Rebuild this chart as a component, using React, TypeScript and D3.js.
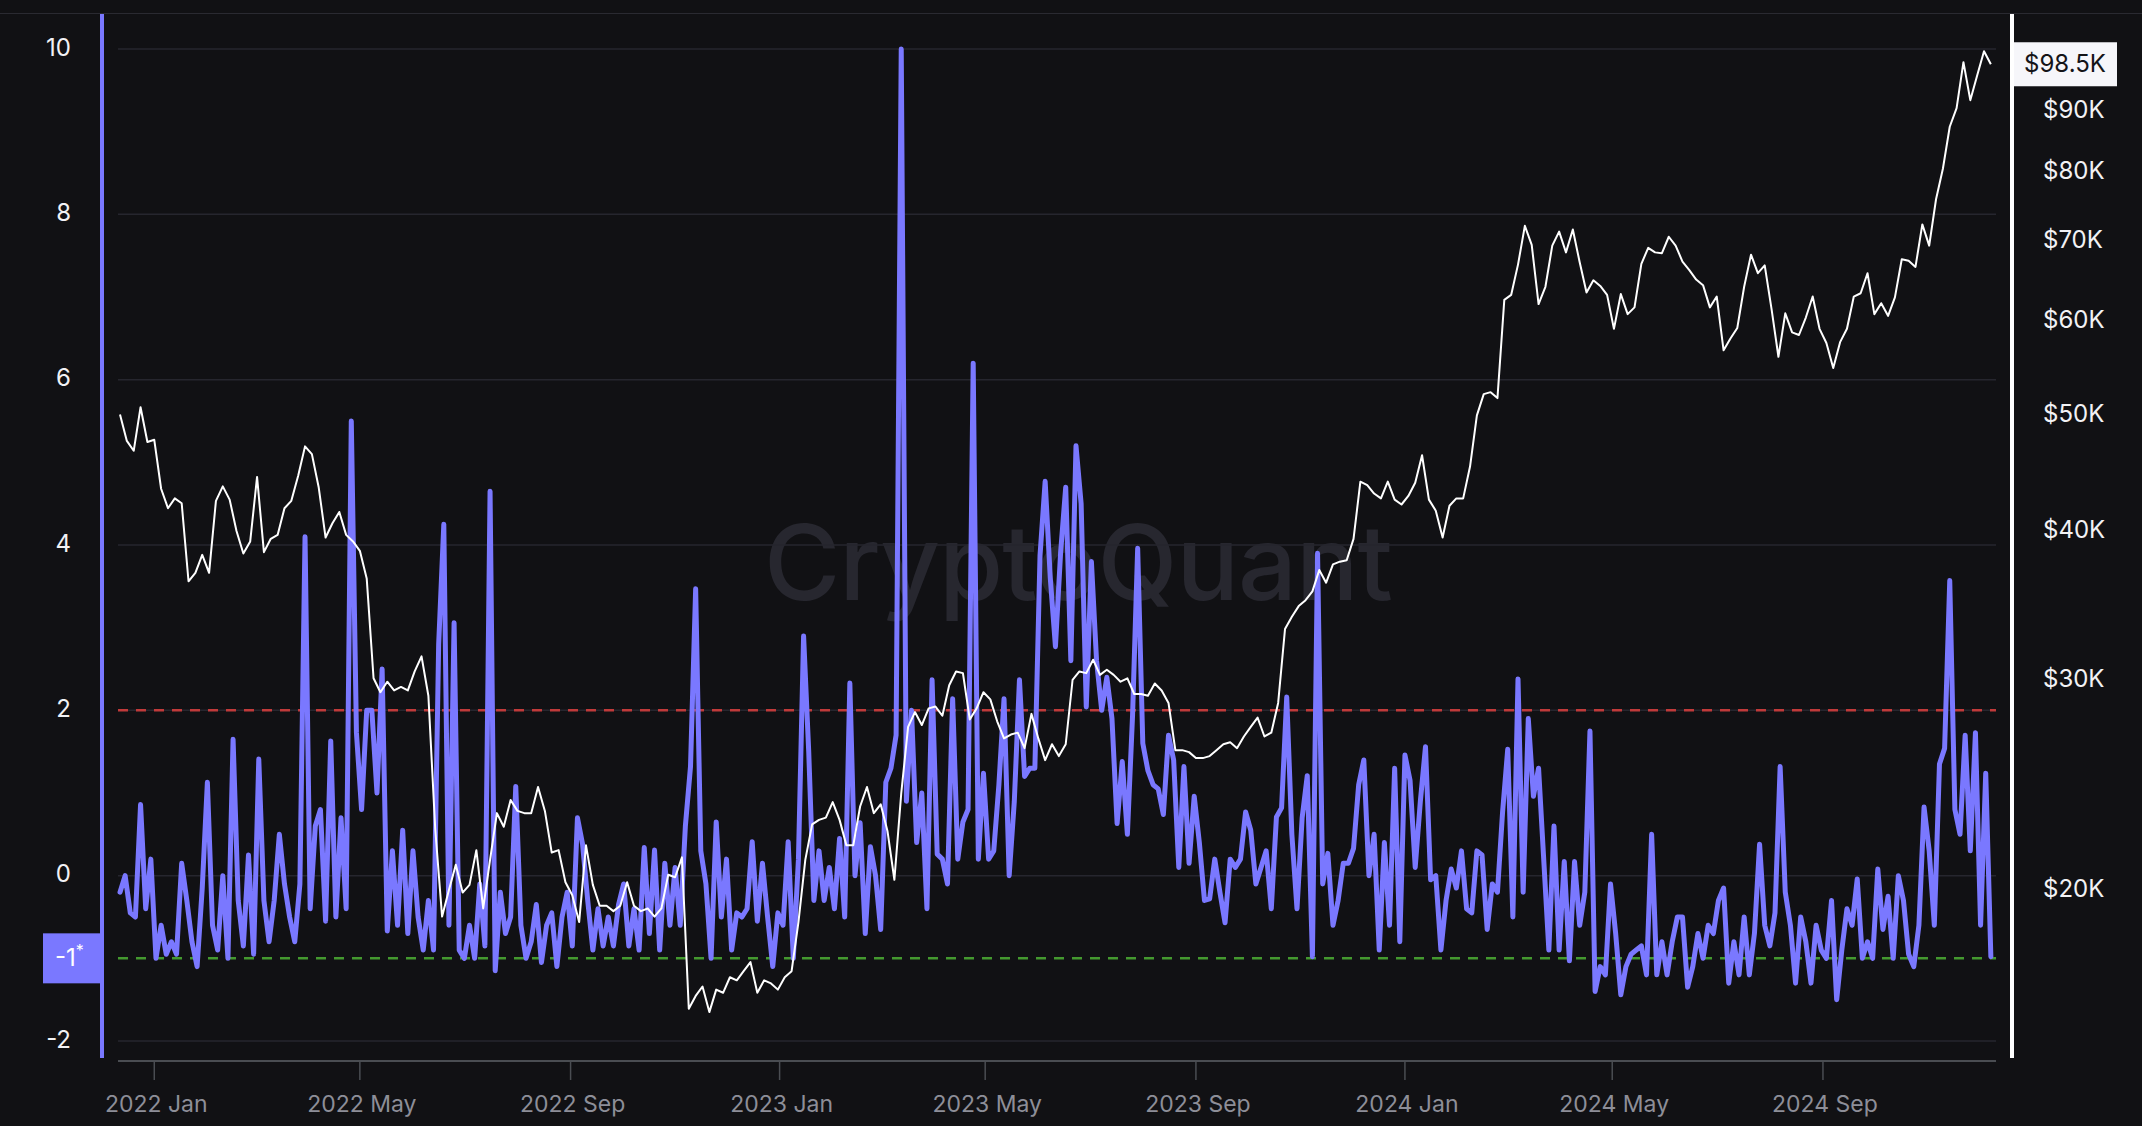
import React from 'react';
import * as d3 from 'd3';

// ---------- DATA ----------
const START_MS = Date.UTC(2021, 11, 12);
const END_MS = Date.UTC(2024, 11, 11);
const DAY_MS = 86400000;
const ratioStepDays = 3;
const priceStepDays = 4;

// Indicator (left axis), one value every 3 days from 2021-12-12
const ratioValues: number[] = [
  -0.2, 0.0, -0.45, -0.5, 0.86, -0.4, 0.2, -1.0, -0.6, -0.95,
  -0.8, -0.95, 0.15, -0.3, -0.8, -1.1, -0.15, 1.13, -0.6, -0.9,
  0.0, -1.0, 1.65, -0.3, -0.85, 0.25, -0.95, 1.41, -0.3, -0.8,
  -0.3, 0.5, -0.1, -0.5, -0.8, -0.1, 4.1, -0.4, 0.6, 0.8,
  -0.55, 1.63, -0.5, 0.7, -0.4, 5.5, 1.73, 0.8, 2.0, 2.0,
  1.0, 2.5, -0.67, 0.3, -0.6, 0.55, -0.7, 0.3, -0.5, -0.9,
  -0.3, -0.9, 2.8, 4.25, -0.6, 3.06, -0.9, -1.0, -0.6, -1.0,
  -0.1, -0.85, 4.65, -1.15, -0.2, -0.7, -0.5, 1.08, -0.6, -1.0,
  -0.8, -0.35, -1.05, -0.6, -0.45, -1.1, -0.5, -0.2, -0.85, 0.7,
  0.38, -0.3, -0.9, -0.4, -0.85, -0.5, -0.85, -0.35, -0.1, -0.85,
  -0.4, -0.9, 0.34, -0.7, 0.31, -0.9, 0.15, -0.6, 0.1, -0.6,
  0.6, 1.32, 3.47, 0.3, -0.1, -1.0, 0.65, -0.5, 0.2, -0.9,
  -0.45, -0.5, -0.4, 0.41, -0.55, 0.15, -0.5, -1.1, -0.45, -0.6,
  0.41, -1.0, 0.2, 2.9, 1.5, -0.3, 0.3, -0.3, 0.1, -0.4,
  0.45, -0.5, 2.33, 0.0, 0.64, -0.7, 0.35, 0.0, -0.65, 1.13,
  1.3, 1.7, 10.0, 0.9, 2.0, 0.4, 1.0, -0.4, 2.37, 0.26,
  0.2, -0.1, 2.14, 0.2, 0.65, 0.8, 6.2, 0.2, 1.24, 0.2,
  0.3, 1.1, 2.14, 0.0, 0.9, 2.37, 1.2, 1.3, 1.3, 3.87,
  4.77, 3.6, 2.77, 3.9, 4.7, 2.6, 5.2, 4.5, 2.04, 3.8,
  2.6, 2.0, 2.4, 1.9, 0.63, 1.38, 0.5, 1.93, 3.96, 1.6,
  1.27, 1.1, 1.05, 0.74, 1.7, 1.4, 0.1, 1.32, 0.15, 0.96,
  0.4, -0.3, -0.28, 0.2, -0.2, -0.57, 0.2, 0.1, 0.2, 0.77,
  0.55, -0.1, 0.1, 0.3, -0.4, 0.71, 0.82, 2.16, 0.5, -0.4,
  0.7, 1.21, -0.98, 3.9, -0.1, 0.27, -0.6, -0.3, 0.15, 0.15,
  0.33, 1.1, 1.4, 0.0, 0.5, -0.9, 0.4, -0.6, 1.3, -0.8,
  1.46, 1.15, 0.1, 0.9, 1.56, -0.05, 0.0, -0.9, -0.3, 0.08,
  -0.15, 0.3, -0.4, -0.45, 0.3, 0.25, -0.65, -0.1, -0.2, 0.77,
  1.53, -0.5, 2.38, -0.2, 1.9, 0.96, 1.3, 0.2, -0.9, 0.6,
  -0.9, 0.17, -1.03, 0.17, -0.6, -0.2, 1.75, -1.4, -1.1, -1.2,
  -0.1, -0.7, -1.44, -1.1, -0.95, -0.9, -0.85, -1.2, 0.5, -1.2,
  -0.8, -1.2, -0.8, -0.5, -0.5, -1.35, -1.1, -0.7, -1.0, -0.6,
  -0.7, -0.3, -0.15, -1.3, -0.8, -1.2, -0.5, -1.2, -0.7, 0.38,
  -0.6, -0.85, -0.45, 1.32, -0.2, -0.6, -1.3, -0.5, -0.8, -1.3,
  -0.6, -0.9, -1.0, -0.3, -1.5, -0.9, -0.4, -0.6, -0.04, -1.0,
  -0.8, -1.0, 0.08, -0.65, -0.25, -1.0, 0.0, -0.3, -0.95, -1.1,
  -0.6, 0.83, 0.3, -0.6, 1.35, 1.54, 3.57, 0.8, 0.5, 1.7,
  0.3, 1.73, -0.6, 1.24, -0.98,
];

// BTC price in $K (right log axis), one value every 4 days from 2021-12-12
const priceValuesK: number[] = [
  50.1, 47.6, 46.7, 50.8, 47.5, 47.7, 43.4, 41.8, 42.6, 42.2,
  36.3, 36.9, 38.2, 36.9, 42.4, 43.6, 42.5, 40.0, 38.3, 39.2,
  44.4, 38.4, 39.4, 39.7, 41.8, 42.4, 44.5, 47.1, 46.4, 43.5,
  39.5, 40.6, 41.5, 39.7, 39.2, 38.5, 36.5, 30.1, 29.3, 29.9,
  29.4, 29.6, 29.4, 30.5, 31.4, 29.1, 22.5, 19.0, 20.0, 21.0,
  19.9, 20.2, 21.6, 19.3, 21.2, 23.2, 22.6, 23.8, 23.3, 23.2,
  23.2, 24.4, 23.3, 21.5, 21.6, 20.3, 19.8, 18.8, 21.8, 20.2,
  19.4, 19.4, 19.2, 19.4, 20.3, 19.4, 19.2, 19.3, 19.0, 19.3,
  20.6, 20.5, 21.3, 15.9, 16.3, 16.6, 15.8, 16.5, 16.4, 16.9,
  16.8, 17.1, 17.4, 16.4, 16.8, 16.7, 16.5, 16.9, 17.1, 18.8,
  21.2, 22.7, 22.9, 23.0, 23.7, 22.9, 21.8, 21.8, 23.5, 24.4,
  23.2, 23.6, 22.4, 20.4, 24.1, 27.4, 28.2, 27.5, 28.4, 28.5,
  28.0, 29.7, 30.5, 30.4, 27.8, 28.4, 29.3, 28.9, 27.7, 26.8,
  27.0, 27.1, 26.3, 28.1, 26.8, 25.7, 26.5, 25.9, 26.5, 30.0,
  30.5, 30.4, 31.2, 30.3, 30.6, 30.3, 29.9, 30.1, 29.2, 29.2,
  29.1, 29.8, 29.4, 28.7, 26.2, 26.2, 26.1, 25.8, 25.8, 25.9,
  26.2, 26.5, 26.6, 26.3, 26.9, 27.4, 27.9, 26.9, 27.1, 28.7,
  33.1, 33.9, 34.6, 35.0, 35.6, 37.1, 36.2, 37.5, 37.7, 37.8,
  39.4, 44.0, 43.7, 43.0, 42.6, 44.0, 42.5, 42.1, 42.8, 43.9,
  46.3, 42.5, 41.6, 39.5, 42.0, 42.6, 42.6, 45.3, 50.0, 52.1,
  52.3, 51.7, 62.5, 63.1, 66.9, 72.1, 69.5, 62.0, 64.1, 69.4,
  71.3, 68.5, 71.6, 67.2, 63.4, 64.9, 64.2, 63.1, 59.1, 63.2,
  60.8, 61.6, 67.0, 69.1, 68.5, 68.4, 70.6, 69.4, 67.3, 66.2,
  65.0, 64.3, 61.6, 62.9, 56.7, 58.0, 59.2, 64.1, 68.2, 65.8,
  66.8, 61.4, 56.0, 60.9, 58.7, 58.4, 60.4, 62.9, 59.1, 57.5,
  54.8, 57.6, 59.1, 62.9, 63.3, 65.8, 60.8, 62.1, 60.6, 62.8,
  67.6, 67.4, 66.6, 72.3, 69.4, 75.9, 80.5, 87.3, 90.5, 98.9,
  91.9, 96.4, 101.0, 98.5,
];

const leftTicks = [-2, 0, 2, 4, 6, 8, 10];
const priceTicks = [20000, 30000, 40000, 50000, 60000, 70000, 80000, 90000];
const xTickDates = [
  [2022, 0], [2022, 4], [2022, 8],
  [2023, 0], [2023, 4], [2023, 8],
  [2024, 0], [2024, 4], [2024, 8],
];
const monthNames = ['Jan', 'Feb', 'Mar', 'Apr', 'May', 'Jun', 'Jul', 'Aug', 'Sep', 'Oct', 'Nov', 'Dec'];
const upperThreshold = 2;
const lowerThreshold = -1;
const lastPrice = 98500;
const lastPriceLabel = '$98.5K';

// ---------- COMPONENT ----------
export default function App() {
  const W = 2142;
  const H = 1126;
  const plotL = 118;
  const plotR = 1996;
  const axisY = 1061;
  const font = "Inter, 'Noto Sans', 'DejaVu Sans', sans-serif";

  const x = d3.scaleUtc().domain([new Date(START_MS), new Date(END_MS)]).range([120, 1996]);
  const yL = d3.scaleLinear().domain([-2, 10]).range([1041, 49]);
  const yR = d3.scaleLog().domain([20000, 90000]).range([890, 111]);

  const ratioPts = ratioValues.map((v, i) => ({ d: new Date(START_MS + i * ratioStepDays * DAY_MS), v }));
  const pricePts = priceValuesK.map((v, i) => ({ d: new Date(START_MS + i * priceStepDays * DAY_MS), v: v * 1000 }));

  const ratioLine = d3.line<{ d: Date; v: number }>().x(p => x(p.d)).y(p => yL(p.v));
  const priceLine = d3.line<{ d: Date; v: number }>().x(p => x(p.d)).y(p => yR(p.v));

  const bg = '#111114';
  const grid = '#26262e';
  const purple = '#7a78ff';

  return (
    <svg width={W} height={H} style={{ position: 'absolute', left: 0, top: 0, display: 'block' }}
      fontFamily={font}>
      <rect x={0} y={0} width={W} height={H} fill={bg} />
      <line x1={0} x2={W} y1={13.5} y2={13.5} stroke="#2a2a31" strokeWidth={1} />

      {/* watermark */}
      <text x={1078} y={600} textAnchor="middle" fontSize={104} fontWeight={500}
        fill="#27272f" letterSpacing={-1}>CryptoQuant</text>

      {/* gridlines */}
      {leftTicks.map(t => (
        <line key={'g' + t} x1={plotL} x2={plotR} y1={yL(t)} y2={yL(t)} stroke={grid} strokeWidth={1.5} />
      ))}

      {/* thresholds */}
      <line x1={plotL} x2={plotR} y1={yL(upperThreshold)} y2={yL(upperThreshold)}
        stroke="#c03a3a" strokeWidth={2.5} strokeDasharray="10 8" />
      <line x1={plotL} x2={plotR} y1={yL(lowerThreshold)} y2={yL(lowerThreshold)}
        stroke="#44992f" strokeWidth={2.5} strokeDasharray="10 8" />

      {/* series */}
      <path d={ratioLine(ratioPts) || ''} fill="none" stroke={purple} strokeWidth={5}
        strokeLinejoin="round" strokeLinecap="round" />
      <path d={priceLine(pricePts) || ''} fill="none" stroke="#ffffff" strokeWidth={2}
        strokeLinejoin="round" />

      {/* x axis */}
      <line x1={plotL} x2={plotR} y1={axisY} y2={axisY} stroke="#4a4d52" strokeWidth={2} />
      {xTickDates.map(([yr, m]) => {
        const d = new Date(Date.UTC(yr, m, 1));
        const px = x(d);
        return (
          <g key={'xt' + yr + m}>
            <line x1={px} x2={px} y1={axisY + 1} y2={1080} stroke="#4a4d52" strokeWidth={1.5} />
            <text x={px + 2} y={1106} textAnchor="middle" dominantBaseline="middle" fontSize={23}
              fill="#8d8e98">{`${yr} ${monthNames[m]}`}</text>
          </g>
        );
      })}

      {/* left axis */}
      <rect x={100} y={14} width={4} height={1044} fill={purple} />
      {leftTicks.map(t => (
        <text key={'lt' + t} x={71} y={yL(t)} textAnchor="end" dominantBaseline="middle"
          fontSize={24} fill="#f2f2f5">{t}</text>
      ))}
      <rect x={43} y={yL(lowerThreshold) - 25} width={58} height={50} fill={purple} />
      <text x={55} y={yL(lowerThreshold) + 1} dominantBaseline="middle" fontSize={24} fill="#ffffff">
        -1<tspan fontSize={16} dy={-7}>*</tspan>
      </text>

      {/* right axis */}
      <rect x={2010} y={14} width={4} height={1044} fill="#ffffff" />
      {priceTicks.map(t => (
        <text key={'rt' + t} x={2043} y={yR(t)} dominantBaseline="middle" fontSize={24}
          fill="#f2f2f5">{`$${t / 1000}K`}</text>
      ))}
      <rect x={2014} y={yR(lastPrice) - 22} width={103} height={44} fill="#f6f6fa" />
      <text x={2065} y={yR(lastPrice) + 1} textAnchor="middle" dominantBaseline="middle"
        fontSize={24} fill="#141418">{lastPriceLabel}</text>
    </svg>
  );
}
